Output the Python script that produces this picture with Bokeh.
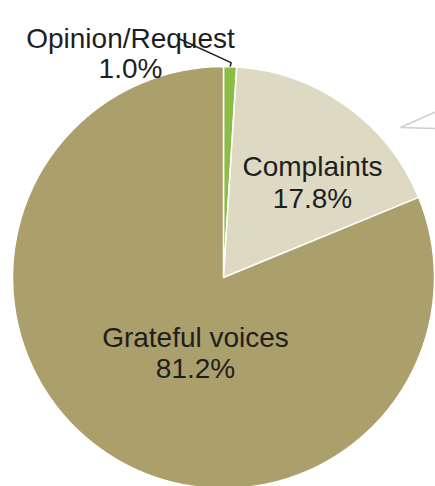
import math
from bokeh.plotting import figure
from bokeh.models import Range1d
from bokeh.core.properties import value
from bokeh.embed import file_html
from bokeh.resources import INLINE

# ---- data ----
categories = ["Opinion/Request", "Complaints", "Grateful voices"]
shares = [1.0, 17.8, 81.2]
pct_labels = ["1.0%", "17.8%", "81.2%"]
colors = ["#8DBC48", "#DDD9C3", "#AB9F6B"]

# ---- layout (image pixel coordinates, y downward) ----
W, H = 435, 486
cx, cy, R = 223, 277, 211
# label anchor (center x, baseline of first line), line gap
label_pos = {
    "Opinion/Request": (130, 38, 30),
    "Complaints": (312, 166, 32),
    "Grateful voices": (195, 337, 31),
}

def Y(img_y):
    return H - img_y

p = figure(width=W, height=H, output_backend="svg", toolbar_location=None,
           x_range=Range1d(0, W), y_range=Range1d(0, H),
           min_border=0, min_border_left=0, min_border_right=0,
           min_border_top=0, min_border_bottom=0)
p.axis.visible = False
p.grid.visible = False
p.outline_line_color = None
p.background_fill_color = "white"
p.border_fill_color = "white"

total = sum(shares)
starts, ends, mids = [], [], []
acc = 0.0
for s in shares:
    a0 = math.pi / 2 - acc / total * 2 * math.pi
    acc += s
    a1 = math.pi / 2 - acc / total * 2 * math.pi
    starts.append(a0)
    ends.append(a1)
    mids.append((a0 + a1) / 2)

p.wedge(x=[cx] * 3, y=[Y(cy)] * 3, radius=R, start_angle=starts, end_angle=ends,
        direction="clock", fill_color=colors, line_color="white", line_width=1.5)

# leader line for the small slice
m = mids[0]
ex = cx + R * math.cos(m)
ey = Y(cy) + R * math.sin(m)
p.line(x=[178, ex + 1, ex], y=[Y(38), ey + 4, ey], line_color="#222222", line_width=1.6)

# decorative grey callout fragment on the right
p.line(x=[436, 400, 436], y=[Y(111), Y(127), Y(128)], line_color="#cfcfcf", line_width=1.5)

# labels
for cat, pct in zip(categories, pct_labels):
    lx, ly, gap = label_pos[cat]
    p.text(x=[lx, lx], y=[Y(ly), Y(ly + gap)], text=[cat, pct],
           text_align="center", text_baseline="alphabetic",
           text_font=value("Liberation Sans"), text_font_size="28px",
           text_color="#1e1e1e")

open("out.html", "w").write(file_html(p, INLINE))
